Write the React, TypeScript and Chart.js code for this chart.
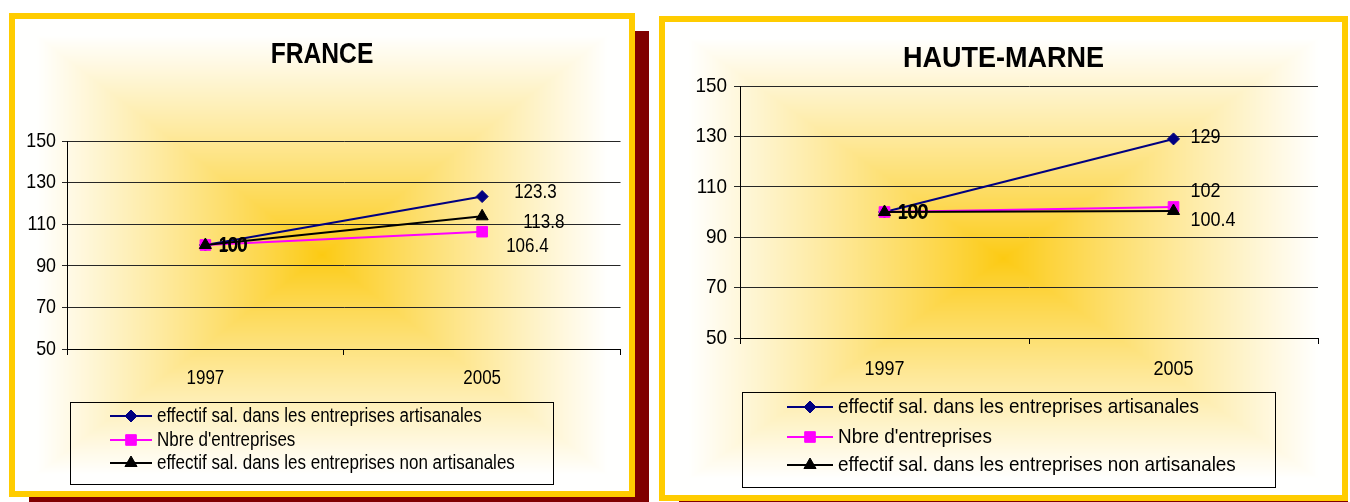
import React, { useEffect, useRef } from 'react';
import { Chart, registerables } from 'chart.js';
import { drawPoint } from 'chart.js/helpers';

Chart.register(...registerables);

// ---------- DATA ----------
const years = ['1997', '2005'];
const seriesNames = [
  'effectif sal. dans les entreprises artisanales',
  "Nbre d'entreprises",
  'effectif sal. dans les entreprises non artisanales',
];
const franceArtisanal = [100, 123.3];
const franceEntreprises = [100, 106.4];
const franceNonArtisanal = [100, 113.8];
const hauteMarneArtisanal = [100, 129];
const hauteMarneEntreprises = [100, 102];
const hauteMarneNonArtisanal = [100, 100.4];
const yMin = 50;
const yMax = 150;
const yStep = 20;

// ---------- STYLE ----------
const FONT = '"Liberation Sans", Arial, sans-serif';
const YELLOW = '#FFCC00';
const SHADOW = '#800000';
const seriesColors = ['#000080', '#FF00FF', '#000000'];
const seriesPointStyles = ['rectRot', 'rect', 'triangle'];
const seriesPointRadius = [6, 7.5, 7];
const seriesOrder = [3, 2, 1];

const panels = [
  {
    key: 'fr',
    title: 'FRANCE',
    series: [franceArtisanal, franceEntreprises, franceNonArtisanal],
    box: { left: 9, top: 13, width: 626, height: 484 },
    shadow: { left: 29, top: 31, width: 620, height: 471 },
    cw: 614,
    ch: 472,
    area: { left: 52, right: 607, top: 122, bottom: 330 },
    sx: 0.85,
    titleY: 36,
    titleSize: 29,
    tickFont: 21,
    yTickLen: 5,
    yLabelRight: 41,
    xFont: 20,
    xLabelY: 359,
    labelFont: 20,
    labelOffsets: [
      [[13, 0], [32, -4]],
      [[14, 0], [24, 15]],
      [[13, 1], [41, 6]],
    ],
    legendFont: 20,
    legend: { x: 55, y: 383, w: 483, h: 82, rows: [397, 421, 444], lineX0: 95, lineX1: 137, textX: 142 },
  },
  {
    key: 'hm',
    title: 'HAUTE-MARNE',
    series: [hauteMarneArtisanal, hauteMarneEntreprises, hauteMarneNonArtisanal],
    box: { left: 659, top: 16, width: 689, height: 485 },
    shadow: { left: 679, top: 36, width: 669, height: 467 },
    cw: 677,
    ch: 473,
    area: { left: 75, right: 653, top: 64, bottom: 316 },
    sx: 0.9,
    titleY: 37,
    titleSize: 30,
    tickFont: 21,
    yTickLen: 6,
    yLabelRight: 62,
    xFont: 20,
    xLabelY: 347,
    labelFont: 20,
    labelOffsets: [
      [[13, 0], [17, -1]],
      [[14, 0], [17, -15]],
      [[13, 1], [17, 9]],
    ],
    legendFont: 21,
    legend: { x: 77, y: 370, w: 533, h: 95, rows: [385, 415, 443], lineX0: 122, lineX1: 168, textX: 173 },
  },
];

// draw horizontally condensed text (Arial-Narrow-like)
function narrowText(
  ctx: CanvasRenderingContext2D,
  text: string,
  x: number,
  y: number,
  size: number,
  sx: number,
  align: 'left' | 'center' | 'right',
  bold = false
) {
  ctx.save();
  ctx.font = `${bold ? 'bold ' : ''}${size}px ${FONT}`;
  ctx.textAlign = 'left';
  ctx.textBaseline = 'middle';
  const w = ctx.measureText(text).width * sx;
  let x0 = x;
  if (align === 'center') x0 = x - w / 2;
  else if (align === 'right') x0 = x - w;
  ctx.translate(x0, y);
  ctx.scale(sx, 1);
  ctx.fillText(text, 0, 0);
  ctx.restore();
}

// ---------- PLUGINS ----------
const bgCache = new WeakMap<any, HTMLCanvasElement>();
const rectGradientPlugin = {
  id: 'rectGradient',
  beforeDraw(chart: any) {
    const { ctx, width, height } = chart;
    let off = bgCache.get(chart);
    if (!off || off.width !== width || off.height !== height) {
      off = document.createElement('canvas');
      off.width = width;
      off.height = height;
      const octx = off.getContext('2d')!;
      const img = octx.createImageData(width, height);
      const cx = width / 2;
      const cy = height / 2;
      const c0 = [252, 202, 18];
      const c1 = [255, 255, 254];
      for (let y = 0; y < height; y++) {
        for (let x = 0; x < width; x++) {
          const t = Math.max(Math.abs(x + 0.5 - cx) / cx, Math.abs(y + 0.5 - cy) / cy);
          const f = Math.pow(Math.min(1, t / 0.93), 0.9);
          const i = (y * width + x) * 4;
          img.data[i] = c0[0] + (c1[0] - c0[0]) * f;
          img.data[i + 1] = c0[1] + (c1[1] - c0[1]) * f;
          img.data[i + 2] = c0[2] + (c1[2] - c0[2]) * f;
          img.data[i + 3] = 255;
        }
      }
      octx.putImageData(img, 0, 0);
      bgCache.set(chart, off);
    }
    ctx.save();
    ctx.drawImage(off, 0, 0);
    ctx.restore();
  },
};

const decorPlugin = {
  id: 'decor',
  afterDatasetsDraw(chart: any, _args: any, opts: any) {
    const { ctx } = chart;
    const p = opts.panel;
    ctx.fillStyle = '#000';
    chart.data.datasets.forEach((ds: any, di: number) => {
      const meta = chart.getDatasetMeta(di);
      meta.data.forEach((pt: any, i: number) => {
        const off = p.labelOffsets[di][i];
        narrowText(ctx, String(ds.data[i]), pt.x + off[0], pt.y + off[1], p.labelFont, p.sx, 'left');
      });
    });
  },
  afterDraw(chart: any, _args: any, opts: any) {
    const { ctx } = chart;
    const p = opts.panel;
    ctx.save();
    ctx.fillStyle = '#000';
    // title
    narrowText(ctx, p.title, chart.width / 2, p.titleY, p.titleSize, p.sx, 'center', true);
    // y tick labels
    const ys = chart.scales.y;
    ys.ticks.forEach((t: any) => {
      narrowText(ctx, String(t.value), p.yLabelRight, ys.getPixelForValue(t.value), p.tickFont, p.sx, 'right');
    });
    // x tick labels
    const xs = chart.scales.x;
    chart.data.labels.forEach((lab: string, i: number) => {
      narrowText(ctx, lab, xs.getPixelForTick(i), p.xLabelY, p.xFont, p.sx, 'center');
    });
    ctx.restore();
    // legend
    const L = p.legend;
    ctx.save();
    ctx.strokeStyle = '#000';
    ctx.lineWidth = 1;
    ctx.strokeRect(L.x + 0.5, L.y + 0.5, L.w, L.h);
    chart.data.datasets.forEach((ds: any, di: number) => {
      const y = L.rows[di];
      ctx.strokeStyle = ds.borderColor;
      ctx.lineWidth = 2;
      ctx.beginPath();
      ctx.moveTo(L.lineX0, y);
      ctx.lineTo(L.lineX1, y);
      ctx.stroke();
      ctx.fillStyle = ds.borderColor;
      ctx.strokeStyle = ds.borderColor;
      ctx.lineWidth = 1;
      drawPoint(
        ctx,
        { pointStyle: ds.pointStyle, radius: ds.pointRadius, rotation: 0, borderWidth: 1 } as any,
        (L.lineX0 + L.lineX1) / 2,
        y
      );
      ctx.fillStyle = '#000';
      narrowText(ctx, ds.label, L.textX, y, p.legendFont, p.sx, 'left');
    });
    ctx.restore();
  },
};

function Panel({ p }: { p: any }) {
  const ref = useRef<HTMLCanvasElement>(null);
  useEffect(() => {
    const canvas = ref.current!;
    const chart = new Chart(canvas, {
      type: 'line',
      data: {
        labels: years,
        datasets: p.series.map((values: number[], i: number) => ({
          label: seriesNames[i],
          data: values,
          borderColor: seriesColors[i],
          backgroundColor: seriesColors[i],
          pointBackgroundColor: seriesColors[i],
          pointBorderColor: seriesColors[i],
          pointStyle: seriesPointStyles[i],
          pointRadius: seriesPointRadius[i],
          pointBorderWidth: 1,
          borderWidth: 2,
          tension: 0,
          fill: false,
          order: seriesOrder[i],
          clip: false,
        })),
      },
      options: {
        responsive: false,
        animation: false,
        events: [],
        layout: {
          padding: { top: p.area.top, left: 0, right: p.cw - p.area.right, bottom: 0 },
        },
        plugins: {
          legend: { display: false },
          title: { display: false },
          tooltip: { enabled: false },
          decor: { panel: p },
        } as any,
        scales: {
          x: {
            type: 'category',
            offset: true,
            grid: {
              display: true,
              offset: true,
              drawOnChartArea: false,
              drawTicks: true,
              tickLength: 6,
              color: '#000',
              lineWidth: 1,
            },
            border: { display: true, color: '#000', width: 1 },
            ticks: { display: false, autoSkip: false, maxRotation: 0 },
            afterFit: (scale: any) => {
              scale.height = p.ch - p.area.bottom;
            },
          },
          y: {
            min: yMin,
            max: yMax,
            grid: {
              display: true,
              drawTicks: true,
              tickLength: p.yTickLen,
              color: '#262626',
              lineWidth: 1,
            },
            border: { display: true, color: '#000', width: 1 },
            ticks: { display: false, stepSize: yStep },
            afterFit: (scale: any) => {
              scale.width = p.area.left;
            },
          },
        },
      },
      plugins: [rectGradientPlugin, decorPlugin],
    } as any);
    return () => chart.destroy();
  }, [p]);

  return (
    <>
      <div
        style={{
          position: 'absolute',
          left: p.shadow.left,
          top: p.shadow.top,
          width: p.shadow.width,
          height: p.shadow.height,
          background: SHADOW,
        }}
      />
      <div
        style={{
          position: 'absolute',
          left: p.box.left,
          top: p.box.top,
          width: p.box.width,
          height: p.box.height,
          boxSizing: 'border-box',
          border: `6px solid ${YELLOW}`,
          background: '#fff',
        }}
      >
        <canvas ref={ref} width={p.cw} height={p.ch} style={{ display: 'block', width: p.cw, height: p.ch }} />
      </div>
    </>
  );
}

export default function App() {
  return (
    <div
      style={{
        position: 'fixed',
        left: 0,
        top: 0,
        width: 1350,
        height: 502,
        background: '#fff',
        overflow: 'hidden',
      }}
    >
      {panels.map((p) => (
        <Panel key={p.key} p={p} />
      ))}
    </div>
  );
}
